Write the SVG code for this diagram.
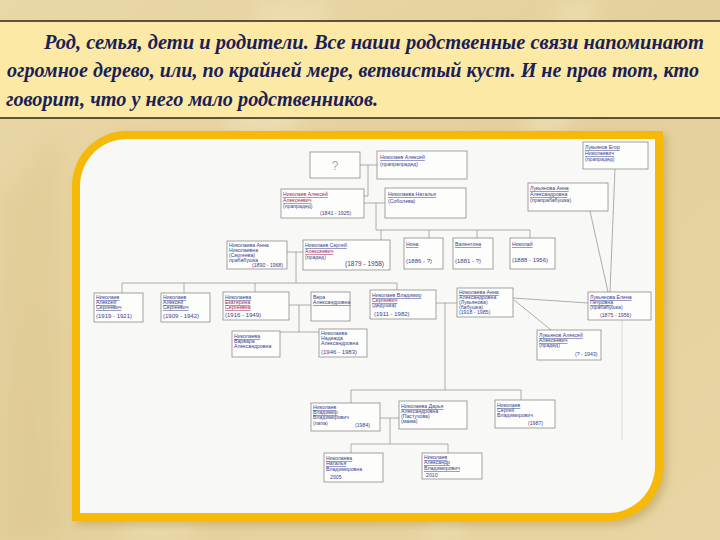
<svg xmlns="http://www.w3.org/2000/svg" width="720" height="540" viewBox="0 0 720 540">
<defs>
<linearGradient id="bg" x1="0" y1="0" x2="1" y2="1">
<stop offset="0" stop-color="#e9d7a6"/>
<stop offset="0.5" stop-color="#e4d09c"/>
<stop offset="1" stop-color="#e8d5a3"/>
</linearGradient>
<filter id="blur" x="-10%" y="-10%" width="120%" height="120%"><feGaussianBlur stdDeviation="4"/></filter>
<filter id="soft" x="-10%" y="-10%" width="120%" height="120%"><feGaussianBlur stdDeviation="10"/></filter>
<style>
.hd{font-family:"Liberation Serif",serif;font-style:italic;font-weight:bold;font-size:21px;fill:#1b1f57}
.box{fill:#fdfdfc;stroke:#8c8c8c;stroke-width:0.8}
.t{font-family:"Liberation Sans",sans-serif;font-size:5.2px;fill:#3a4390}
.r{fill:#a3285a;text-decoration:underline}
.u{text-decoration:underline}
.c{fill:none;stroke:#999;stroke-width:0.8}
</style>
</defs>
<rect width="720" height="540" fill="url(#bg)"/>
<g opacity="0.35" filter="url(#soft)">
<polygon points="120,540 260,0 330,0 190,540" fill="#f6ecc8"/>
<polygon points="420,540 560,0 600,0 460,540" fill="#f6ecc8"/>
<polygon points="0,200 60,130 60,540 0,540" fill="#d8c28a"/>
</g>
<rect x="0" y="21" width="720" height="97" fill="#fce9a6"/>
<line x1="0" y1="21" x2="720" y2="21" stroke="#2d2414" stroke-width="1.6"/>
<line x1="0" y1="118" x2="720" y2="118" stroke="#2d2414" stroke-width="1.6"/>
<text class="hd" x="44" y="49" textLength="660" lengthAdjust="spacingAndGlyphs">Род, семья, дети и родители. Все наши родственные связи напоминают</text>
<text class="hd" x="7" y="77" font-size="18" textLength="692" lengthAdjust="spacingAndGlyphs">огромное дерево, или, по крайней мере, ветвистый куст. И не прав тот, кто</text>
<text class="hd" x="6" y="106" textLength="372" lengthAdjust="spacingAndGlyphs">говорит, что у него мало родственников.</text>
<path d="M76,190 A55,55 0 0 1 131,135 L667,135 L667,470 A55,55 0 0 1 612,525 L76,525 Z" fill="#b89a55" opacity="0.55" filter="url(#blur)"/>
<path d="M72,186 A55,55 0 0 1 127,131 L663,131 L663,466 A55,55 0 0 1 608,521 L72,521 Z" fill="#f6b908"/>
<path d="M80,186 A47,47 0 0 1 127,139 L655,139 L655,466 A47,47 0 0 1 608,513 L80,513 Z" fill="#f8f8f6"/>
<g id="connectors">
<path class="c" d="M360,165 H377 M368,165 V196 H364"/>
<path class="c" d="M364,203 H385 M376,203 V230 H530 M381,230 V240 M429,230 V238 M477,230 V238 M530,230 V238"/>
<path class="c" d="M287,252 H303 M296,252 V283 M122,283 H397 M122,283 V293 M184,283 V293 M255,283 V292 M397,283 V290"/>
<path class="c" d="M289,305 H311 M299,305 V332 M280,332 H319"/>
<path class="c" d="M436,303 H457 M445,303 V390 M351,390 H521 M351,390 V403 M521,390 V400"/>
<path class="c" d="M380,418 H399 M390,418 V444 M351,444 H448 M351,444 V453 M448,444 V453"/>
<path class="c" d="M513,298 L588,303 M514,300 L551,330 M590,211 L608,292 M615,169 L610,292"/>
<path d="M622,320 V440" stroke="#cfcfcf" stroke-width="0.7" fill="none"/>
</g>
<g id="A0"><rect class="box" x="310" y="152" width="50" height="26"/><text x="335" y="170" font-family="Liberation Sans,sans-serif" font-size="12" fill="#aaa" text-anchor="middle">?</text></g>
<g id="A1"><rect class="box" x="377" y="151" width="90" height="28"/><text class="t"><tspan class="u" x="380" y="159">Николаев Алексей</tspan><tspan x="380" y="166">(прапрапрадед)</tspan></text></g>
<g id="A2"><rect class="box" x="281" y="189" width="83" height="29"/><text class="t"><tspan class="r" x="283" y="196">Николаев Алексей</tspan><tspan class="r" x="283" y="202">Алексеевич</tspan><tspan x="283" y="208">(прапрадед)</tspan><tspan x="320" y="215">(1841 - 1925)</tspan></text></g>
<g id="A3"><rect class="box" x="385" y="188" width="81" height="30"/><text class="t"><tspan class="u" x="388" y="196">Николаева Наталья</tspan><tspan x="388" y="203">(Соболева)</tspan></text></g>
<g id="B0"><rect class="box" x="583" y="142" width="65" height="27"/><text class="t"><tspan class="u" x="585" y="149">Лукьянов Егор</tspan><tspan class="u" x="585" y="155">Николаевич</tspan><tspan x="585" y="161">(прапрадед)</tspan></text></g>
<g id="B1"><rect class="box" x="528" y="183" width="80" height="28"/><text class="t"><tspan class="u" x="530" y="190">Лукьянова Анна</tspan><tspan class="u" x="530" y="196">Александровна</tspan><tspan x="530" y="202">(прапрабабушка)</tspan></text></g>
<g id="C1"><rect class="box" x="227" y="241" width="60" height="28"/><text class="t"><tspan x="229" y="247">Николаева Анна</tspan><tspan x="229" y="252">Николаевна</tspan><tspan x="229" y="257">(Сергеева)</tspan><tspan x="229" y="262">прабабушка</tspan><tspan x="252" y="267">(1890 - 1968)</tspan></text></g>
<g id="C2"><rect class="box" x="303" y="240" width="87" height="30"/><text class="t"><tspan class="u" x="305" y="247">Николаев Сергей</tspan><tspan class="r" x="305" y="253">Алексеевич</tspan><tspan x="305" y="259">(прадед)</tspan><tspan x="345" y="266" font-size="6.5">(1879 - 1958)</tspan></text></g>
<g id="C3"><rect class="box" x="404" y="238" width="39" height="31"/><text class="t"><tspan class="u" x="406" y="246">Нина</tspan><tspan x="406" y="263" font-size="6">(1886 - ?)</tspan></text></g>
<g id="C4"><rect class="box" x="453" y="238" width="40" height="31"/><text class="t"><tspan class="u" x="455" y="246">Валентина</tspan><tspan x="455" y="263" font-size="6">(1881 - ?)</tspan></text></g>
<g id="C5"><rect class="box" x="510" y="238" width="45" height="31"/><text class="t"><tspan class="u" x="512" y="246">Николай</tspan><tspan x="512" y="262" font-size="6">(1888 - 1956)</tspan></text></g>
<g id="D1"><rect class="box" x="94" y="293" width="49" height="29"/><text class="t"><tspan class="u" x="96" y="299">Николаев</tspan><tspan class="u" x="96" y="304">Алексей</tspan><tspan class="u" x="96" y="309">Сергеевич</tspan><tspan x="96" y="318" font-size="6">(1919 - 1921)</tspan></text></g>
<g id="D2"><rect class="box" x="161" y="293" width="49" height="29"/><text class="t"><tspan class="u" x="163" y="299">Николаев</tspan><tspan class="u" x="163" y="304">Алексей</tspan><tspan class="u" x="163" y="309">Сергеевич</tspan><tspan x="163" y="318" font-size="6">(1909 - 1942)</tspan></text></g>
<g id="D3"><rect class="box" x="223" y="292" width="66" height="28"/><text class="t"><tspan class="u" x="225" y="299">Николаева</tspan><tspan class="r" x="225" y="304">Екатерина</tspan><tspan class="r" x="225" y="309">Сергеевна</tspan><tspan x="225" y="317" font-size="6">(1916 - 1949)</tspan></text></g>
<g id="D4"><rect class="box" x="311" y="292" width="39" height="29"/><text class="t"><tspan x="313" y="299">Вера</tspan><tspan class="u" x="313" y="304">Александровна</tspan></text></g>
<g id="D5"><rect class="box" x="370" y="290" width="66" height="29"/><text class="t"><tspan class="u" x="372" y="297">Николаев Владимир</tspan><tspan class="r" x="372" y="302">Сергеевич</tspan><tspan x="372" y="307">(дедушка)</tspan><tspan x="374" y="316" font-size="6">(1911 - 1982)</tspan></text></g>
<g id="D6"><rect class="box" x="457" y="288" width="56" height="29"/><text class="t"><tspan class="u" x="459" y="294">Николаева Анна</tspan><tspan x="459" y="299">Александровна</tspan><tspan x="459" y="304">(Лукьянова)</tspan><tspan x="459" y="309">(бабушка)</tspan><tspan x="459" y="314">(1918 - 1985)</tspan></text></g>
<g id="D7"><rect class="box" x="588" y="292" width="63" height="28"/><text class="t"><tspan class="u" x="590" y="299">Лукьянова Елена</tspan><tspan class="u" x="590" y="304">Петровна</tspan><tspan x="590" y="309">(прабабушка)</tspan><tspan x="600" y="317">(1875 - 1956)</tspan></text></g>
<g id="E1"><rect class="box" x="232" y="331" width="48" height="26"/><text class="t"><tspan class="u" x="234" y="338">Николаева</tspan><tspan x="234" y="343">Варвара</tspan><tspan x="234" y="348">Александровна</tspan></text></g>
<g id="E2"><rect class="box" x="319" y="329" width="48" height="28"/><text class="t"><tspan x="321" y="335">Николаева</tspan><tspan x="321" y="340">Надежда</tspan><tspan x="321" y="345">Александровна</tspan><tspan x="321" y="354" font-size="6">(1946 - 1983)</tspan></text></g>
<g id="E3"><rect class="box" x="537" y="330" width="64" height="30"/><text class="t"><tspan class="u" x="539" y="337">Лукьянов Алексей</tspan><tspan class="u" x="539" y="342">Алексеевич</tspan><tspan x="539" y="347">(прадед)</tspan><tspan x="575" y="356">(? - 1943)</tspan></text></g>
<g id="F1"><rect class="box" x="311" y="403" width="69" height="28"/><text class="t"><tspan class="u" x="313" y="409">Николаев</tspan><tspan class="u" x="313" y="414">Владимир</tspan><tspan x="313" y="419">Владимирович</tspan><tspan x="313" y="425">(папа)</tspan><tspan x="355" y="427">(1984)</tspan></text></g>
<g id="F2"><rect class="box" x="399" y="401" width="68" height="28"/><text class="t"><tspan class="u" x="401" y="408">Николаева Дарья</tspan><tspan x="401" y="413">Александровна</tspan><tspan x="401" y="418">(Пастухова)</tspan><tspan x="401" y="423">(мама)</tspan></text></g>
<g id="F3"><rect class="box" x="495" y="400" width="60" height="28"/><text class="t"><tspan class="u" x="497" y="407">Николаев</tspan><tspan x="497" y="412">Сергей</tspan><tspan x="497" y="417">Владимирович</tspan><tspan x="528" y="425">(1987)</tspan></text></g>
<g id="G1"><rect class="box" x="324" y="453" width="59" height="29"/><text class="t"><tspan class="u" x="326" y="460">Николаева</tspan><tspan class="u" x="326" y="465">Наталья</tspan><tspan x="326" y="471">Владимировна</tspan><tspan x="330" y="479">2005</tspan></text></g>
<g id="G2"><rect class="box" x="422" y="453" width="60" height="26"/><text class="t"><tspan class="u" x="424" y="459">Николаев</tspan><tspan class="u" x="424" y="464">Александр</tspan><tspan class="u" x="424" y="470">Владимирович</tspan><tspan x="426" y="477">2010</tspan></text></g>
</svg>
